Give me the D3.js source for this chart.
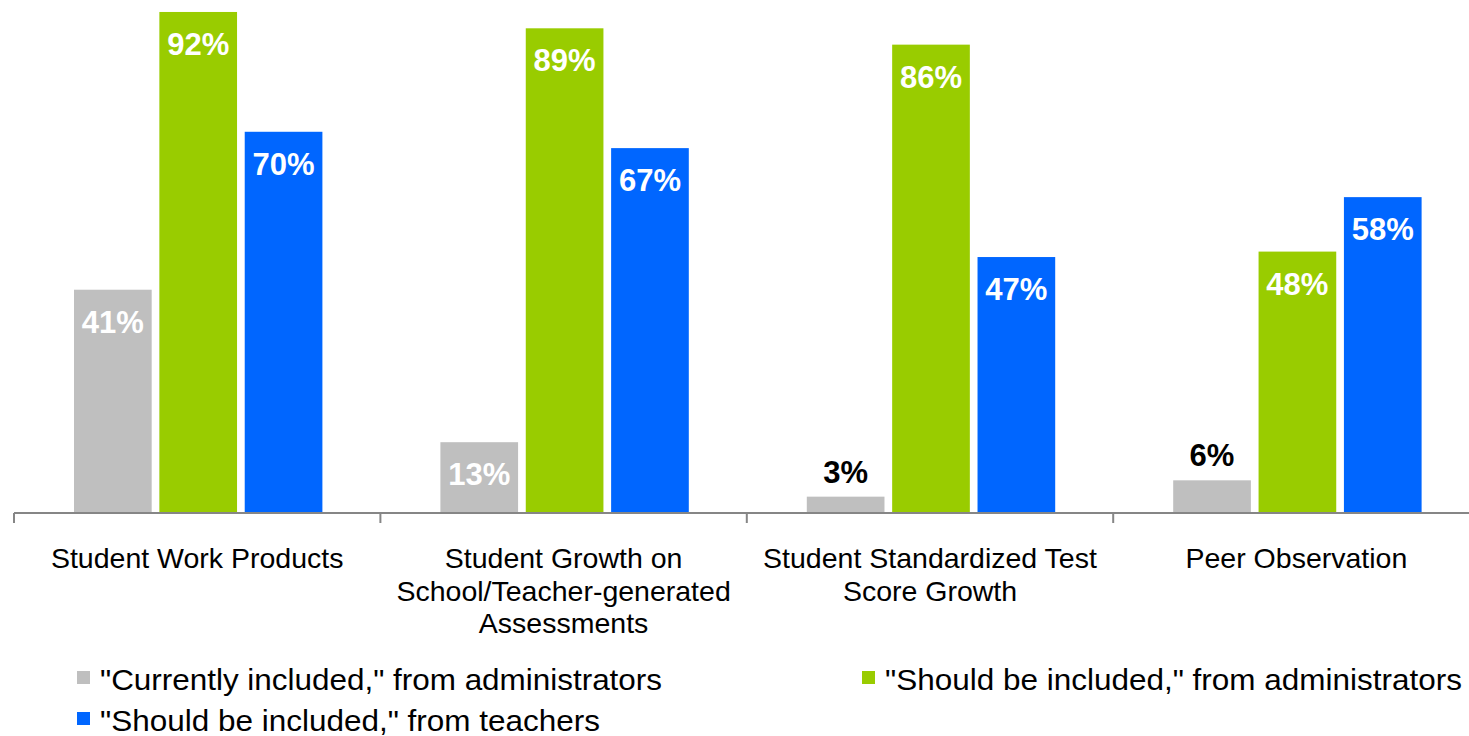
<!DOCTYPE html>
<html>
<head>
<meta charset="utf-8">
<script src="https://cdn.jsdelivr.net/npm/d3@7"></script>
<style>
  html, body { margin: 0; padding: 0; background: #ffffff; }
  svg { display: block; }
  text { font-family: "Liberation Sans", Arial, sans-serif; }
</style>
</head>
<body>
<svg id="chart" width="1469" height="736"></svg>
<script>
// Evaluation measures (category labels split into lines)
const categories = [
  "Student Work Products",
  "Student Growth on School/Teacher-generated Assessments",
  "Student Standardized Test Score Growth",
  "Peer Observation"
];
const categoryLines = [
  ["Student Work Products"],
  ["Student Growth on", "School/Teacher-generated", "Assessments"],
  ["Student Standardized Test", "Score Growth"],
  ["Peer Observation"]
];

// Percent of respondents
const currentlyAdmin = [41, 13, 3, 6];
const shouldAdmin = [92, 89, 86, 48];
const shouldTeachers = [70, 67, 47, 58];

const seriesNames = [
  "\"Currently included,\" from administrators",
  "\"Should be included,\" from administrators",
  "\"Should be included,\" from teachers"
];
const seriesColors = ["#BFBFBF", "#99CC00", "#0066FF"];
const seriesValues = [currentlyAdmin, shouldAdmin, shouldTeachers];

const svg = d3.select("#chart");

const baseY = 513;
const y = d3.scaleLinear().domain([0, 100]).range([baseY, baseY - 544.6]);

const x0 = d3.scaleBand().domain(categories).range([14, 1479.6]).padding(0);
const x1 = d3.scaleBand().domain(d3.range(3))
  .range([60, x0.bandwidth() - 58]).paddingInner(0.09).paddingOuter(0);

// Bars with value labels
const groups = svg.append("g").selectAll("g")
  .data(categories)
  .join("g")
  .attr("transform", d => `translate(${x0(d)},0)`);

groups.each(function(cat, ci) {
  const g = d3.select(this);
  seriesValues.forEach((vals, si) => {
    const v = vals[ci];
    g.append("rect")
      .attr("x", x1(si))
      .attr("width", x1.bandwidth())
      .attr("y", y(v))
      .attr("height", baseY - y(v))
      .attr("fill", seriesColors[si]);
    const inside = (baseY - y(v)) > 50;
    g.append("text")
      .attr("x", x1(si) + x1.bandwidth() / 2)
      .attr("y", inside ? y(v) + 43 : y(v) - 14)
      .attr("text-anchor", "middle")
      .attr("font-size", 31)
      .attr("font-weight", "bold")
      .attr("fill", inside ? "#ffffff" : "#000000")
      .text(v + "%");
  });
});

// Category axis: baseline plus tick marks between groups
const axisG = svg.append("g").attr("transform", `translate(0,${baseY})`);
axisG.append("line")
  .attr("x1", 14).attr("x2", 1469)
  .attr("y1", 0).attr("y2", 0)
  .attr("stroke", "#868686").attr("stroke-width", 2);
axisG.selectAll("line.tickmark")
  .data(categories)
  .join("line")
  .attr("class", "tickmark")
  .attr("x1", d => x0(d)).attr("x2", d => x0(d))
  .attr("y1", 0).attr("y2", 10)
  .attr("stroke", "#868686").attr("stroke-width", 2);

// Category labels
categories.forEach((cat, ci) => {
  const cx = x0(cat) + x0.bandwidth() / 2;
  const t = svg.append("text")
    .attr("text-anchor", "middle")
    .attr("font-size", 28.5)
    .attr("fill", "#000000");
  categoryLines[ci].forEach((line, li) => {
    t.append("tspan")
      .attr("x", cx)
      .attr("y", 568 + li * 32.5)
      .text(line);
  });
});

// Legend
const legendItems = [
  { i: 0, x: 77, y: 690, len: 562 },
  { i: 1, x: 862, y: 690, len: 577 },
  { i: 2, x: 77, y: 731, len: 500 }
];
const legend = svg.append("g");
legendItems.forEach(item => {
  legend.append("rect")
    .attr("x", item.x).attr("y", item.y - 19)
    .attr("width", 13).attr("height", 13)
    .attr("fill", seriesColors[item.i]);
  legend.append("text")
    .attr("x", item.x + 23).attr("y", item.y)
    .attr("font-size", 30)
    .attr("fill", "#000000")
    .attr("textLength", item.len)
    .attr("lengthAdjust", "spacingAndGlyphs")
    .text(seriesNames[item.i]);
});
</script>
</body>
</html>
